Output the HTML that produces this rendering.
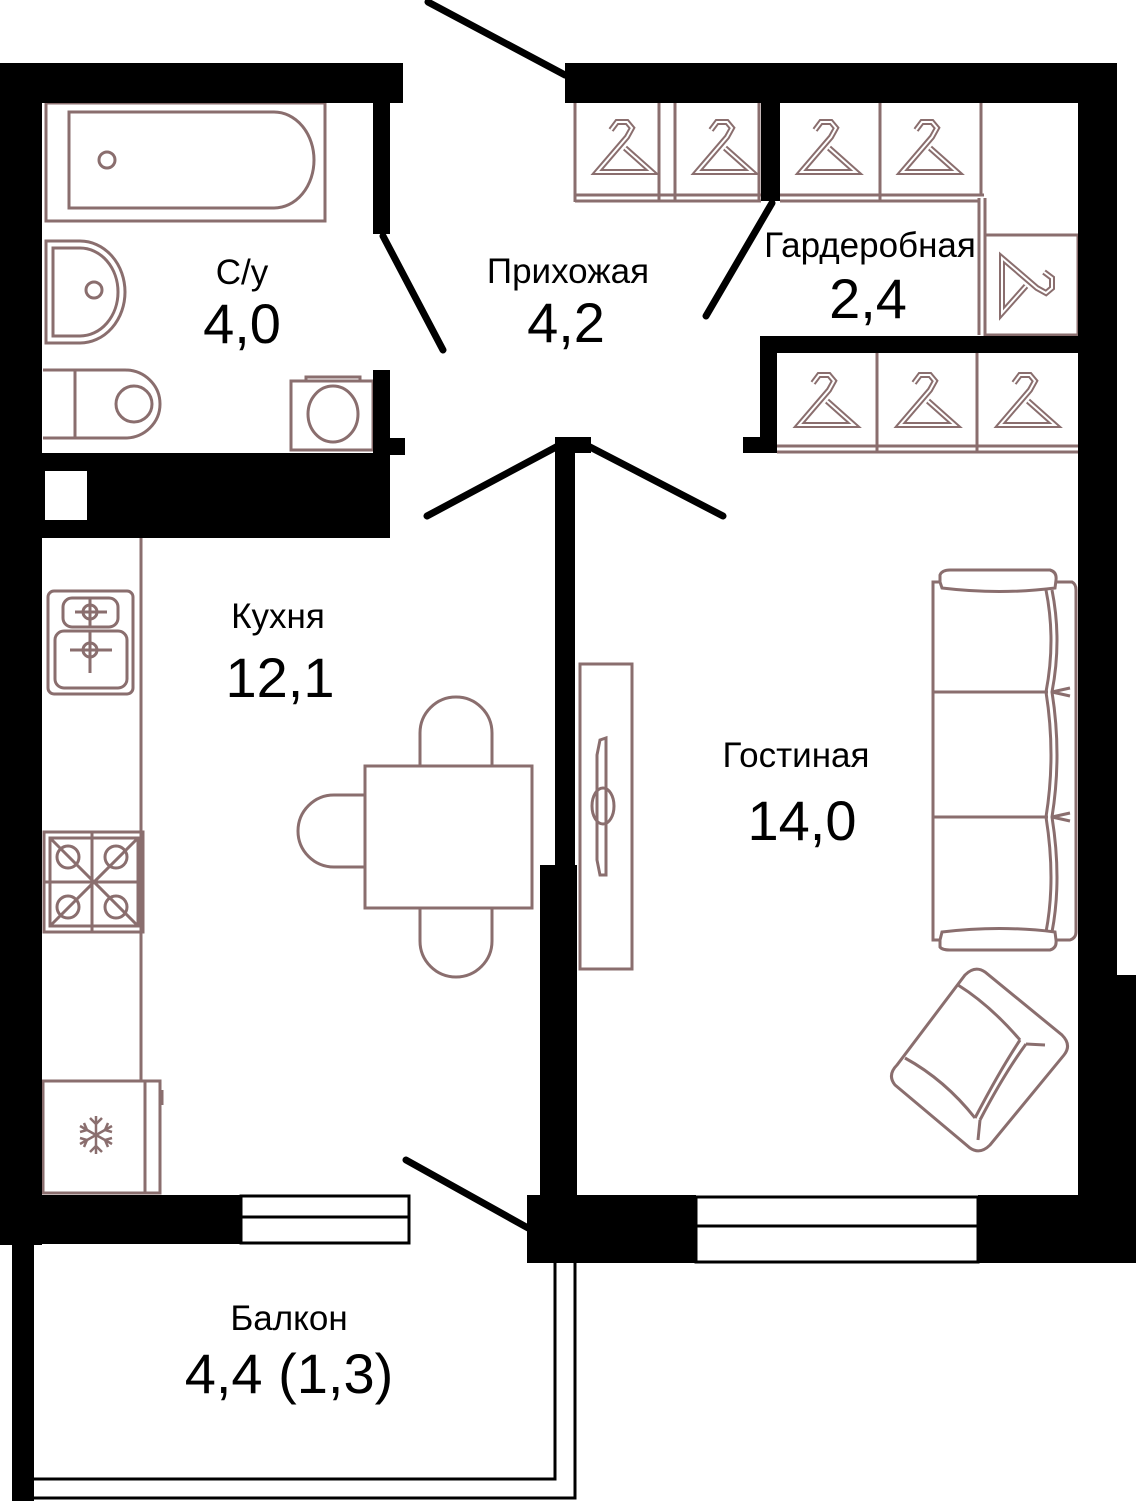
<!DOCTYPE html>
<html><head><meta charset="utf-8"><style>
html,body{margin:0;padding:0;background:#fff;}
svg{display:block;}
text{font-family:"Liberation Sans",sans-serif;fill:#000;text-anchor:middle;}
</style></head><body>
<svg width="1136" height="1501" viewBox="0 0 1136 1501" xmlns="http://www.w3.org/2000/svg">
<defs>
<g id="hg">
<path d="M14,10 L20,2 L30,2 L35,8 L30,17 L0,52 L55,52 L28,28" fill="none" stroke="#8a6e6e" stroke-width="6" stroke-linejoin="miter"/>
<path d="M14,10 L20,2 L30,2 L35,8 L30,17 L0,52 L55,52 L28,28" fill="none" stroke="#fff" stroke-width="2" stroke-linejoin="miter"/>
</g>
</defs>
<g fill="none" stroke="#8a6e6e" stroke-width="3">
<rect x="46" y="103" width="279" height="118"/>
<path d="M69,112 H274 A40,48 0 0 1 274,208 H69 Z"/>
<circle cx="107" cy="160" r="8"/>
<path d="M46,241 H80 A45,51 0 0 1 80,343 H46 Z"/>
<path d="M53,248 H80 A38,44 0 0 1 80,336 H53 Z"/>
<circle cx="94" cy="290" r="8"/>
<path d="M43,370 H125 A35,34 0 0 1 125,438 H43"/>
<line x1="75" y1="370" x2="75" y2="438"/>
<circle cx="134" cy="404" r="18"/>
<rect x="291" y="381" width="82" height="69"/>
<rect x="306" y="377" width="54" height="4"/>
<ellipse cx="333" cy="414" rx="25" ry="28"/>
<line x1="575" y1="103" x2="575" y2="202"/>
<line x1="659" y1="103" x2="659" y2="200"/>
<line x1="675" y1="103" x2="675" y2="200"/>
<line x1="759" y1="103" x2="759" y2="200"/>
<line x1="575" y1="195" x2="761" y2="195"/>
<line x1="575" y1="201" x2="761" y2="201"/>
<line x1="880" y1="103" x2="880" y2="200"/>
<line x1="981" y1="103" x2="981" y2="195"/>
<line x1="780" y1="195" x2="984" y2="195"/>
<line x1="780" y1="201" x2="980" y2="201"/>
<line x1="979" y1="198" x2="979" y2="335"/>
<line x1="985" y1="198" x2="985" y2="335"/>
<rect x="985" y="235" width="93" height="100"/>
<line x1="877" y1="353" x2="877" y2="453"/>
<line x1="977" y1="353" x2="977" y2="453"/>
<line x1="777" y1="446" x2="1078" y2="446"/>
<line x1="777" y1="452" x2="1078" y2="452"/>
<line x1="141" y1="538" x2="141" y2="1081"/>
<rect x="48" y="591" width="85" height="103" rx="6"/>
<rect x="63" y="598" width="55" height="29" rx="9"/>
<rect x="55" y="631" width="72" height="57" rx="9"/>
<circle cx="90" cy="612" r="7"/><line x1="75" y1="612" x2="107" y2="612"/><line x1="90" y1="598" x2="90" y2="627"/>
<circle cx="90" cy="650" r="7"/><line x1="70" y1="650" x2="112" y2="650"/><line x1="90" y1="631" x2="90" y2="673"/>
<rect x="44" y="832" width="99" height="100"/>
<rect x="50" y="838" width="88" height="88"/>
<line x1="92" y1="832" x2="92" y2="932"/><line x1="44" y1="882" x2="143" y2="882"/>
<line x1="50" y1="838" x2="138" y2="926"/><line x1="138" y1="838" x2="50" y2="926"/>
<circle cx="68" cy="857" r="11"/><circle cx="116" cy="857" r="11"/>
<circle cx="68" cy="907" r="11"/><circle cx="116" cy="907" r="11"/>
<rect x="365" y="766" width="167" height="142"/>
<path d="M420,766 V733 A36,36 0 0 1 492,733 V766"/>
<path d="M420,908 V941 A36,36 0 0 0 492,941 V908"/>
<path d="M365,795 H334 A36,36 0 0 0 334,867 H365"/>
<rect x="43" y="1081" width="102" height="112"/>
<rect x="145" y="1081" width="15" height="112"/>
<line x1="162" y1="1090" x2="162" y2="1105"/>
<rect x="580" y="664" width="52" height="305"/>
<path d="M600,740 L606,738 L606,875 L600,875 L597,860 L597,755 Z"/>
<ellipse cx="603" cy="806" rx="11" ry="18"/>
<path d="M940,582 L940,575 Q942,570 950,570 L1050,570 Q1057,572 1056,580 L1055,588 Q1000,595 942,588 Z"/>
<path d="M940,940 L940,947 Q942,950 950,950 L1050,950 Q1057,948 1056,940 L1055,932 Q1000,925 942,932 Z"/>
<path d="M940,582 H933 V940 H940"/>
<path d="M1056,582 H1072 Q1076,584 1076,590 V932 Q1076,938 1070,940 H1056"/>
<line x1="933" y1="692" x2="1048" y2="692"/>
<line x1="933" y1="817" x2="1048" y2="817"/>
<path d="M1046,590 Q1056,640 1046,692 Q1056,755 1046,817 Q1056,880 1046,932"/>
<path d="M1052,590 Q1062,640 1052,692 Q1062,755 1052,817 Q1062,880 1052,932"/>
<path d="M1052,692 L1070,688 M1052,692 L1070,696 M1052,817 L1070,813 M1052,817 L1070,821"/>
<path d="M965,975 Q975,965 985,972 L1062,1035 Q1072,1045 1064,1055 L990,1145 Q980,1155 970,1148 L895,1085 Q887,1075 897,1065 Z"/>
<path d="M958,985 Q990,1005 1020,1040"/>
<path d="M905,1058 Q945,1080 975,1118"/>
<path d="M1020,1040 Q1000,1070 975,1118"/>
<path d="M1026,1044 Q1004,1074 980,1120"/>
<path d="M1026,1044 L1045,1045 M980,1120 L978,1140"/>
</g>
<g stroke="#8a6e6e" stroke-width="2.5" fill="none">
<line x1="96" y1="1116" x2="96" y2="1154"/><line x1="80" y1="1126" x2="112" y2="1144"/><line x1="80" y1="1144" x2="112" y2="1126"/>
<path d="M90,1118 L96,1124 L102,1118 M90,1152 L96,1146 L102,1152 M80,1132 L87,1130 L84,1123 M112,1138 L105,1140 L108,1147 M80,1138 L87,1140 L84,1147 M112,1132 L105,1130 L108,1123"/>
</g>
<use href="#hg" x="597" y="120"/>
<use href="#hg" x="697" y="120"/>
<use href="#hg" x="801" y="120"/>
<use href="#hg" x="902" y="120"/>
<use href="#hg" x="799" y="373"/>
<use href="#hg" x="900" y="373"/>
<use href="#hg" x="1000" y="373"/>
<g transform="translate(1054,258) rotate(90)"><use href="#hg"/></g>
<g fill="#000">
<rect x="0" y="63" width="403" height="40"/>
<rect x="0" y="63" width="42" height="1182"/>
<rect x="373" y="103" width="17" height="131"/>
<rect x="373" y="370" width="17" height="83"/>
<rect x="388" y="438" width="17" height="17"/>
<rect x="42" y="453" width="348" height="85"/>
<rect x="565" y="63" width="552" height="40"/>
<rect x="1078" y="63" width="39" height="915"/>
<rect x="1078" y="975" width="58" height="288"/>
<rect x="761" y="103" width="19" height="98"/>
<rect x="760" y="336" width="318" height="17"/>
<rect x="760" y="336" width="17" height="117"/>
<rect x="743" y="437" width="20" height="16"/>
<rect x="555" y="437" width="36" height="16"/>
<rect x="555" y="437" width="20" height="430"/>
<rect x="540" y="865" width="37" height="340"/>
<rect x="0" y="1195" width="241" height="49"/>
<rect x="527" y="1195" width="169" height="68"/>
<rect x="978" y="1195" width="158" height="68"/>
<rect x="12" y="1244" width="22" height="257"/>
</g>
<rect x="45" y="471" width="42" height="49" fill="#fff"/>
<g fill="none" stroke="#000" stroke-width="3">
<rect x="241" y="1196" width="168" height="47"/>
<line x1="241" y1="1217" x2="409" y2="1217"/>
<rect x="696" y="1197" width="282" height="65"/>
<line x1="696" y1="1226" x2="978" y2="1226"/>
<path d="M34,1479 H555 V1263"/>
<path d="M34,1498 H575 V1263"/>
</g>
<g stroke="#000" stroke-width="7" stroke-linecap="round">
<line x1="428" y1="2" x2="565" y2="75"/>
<line x1="383" y1="236" x2="443" y2="350"/>
<line x1="772" y1="203" x2="706" y2="316"/>
<line x1="427" y1="516" x2="558" y2="446"/>
<line x1="590" y1="447" x2="723" y2="516"/>
<line x1="406" y1="1160" x2="528" y2="1228"/>
</g>
<text x="242" y="284" font-size="35">С/у</text>
<text x="242" y="343" font-size="56">4,0</text>
<text x="568" y="283" font-size="35">Прихожая</text>
<text x="566" y="342" font-size="56">4,2</text>
<text x="870" y="257" font-size="35">Гардеробная</text>
<text x="868" y="318" font-size="56">2,4</text>
<text x="278" y="628" font-size="35">Кухня</text>
<text x="280" y="697" font-size="56">12,1</text>
<text x="796" y="767" font-size="35">Гостиная</text>
<text x="802" y="840" font-size="56">14,0</text>
<text x="289" y="1330" font-size="35">Балкон</text>
<text x="289" y="1393" font-size="56">4,4 (1,3)</text>
</svg>
</body></html>
